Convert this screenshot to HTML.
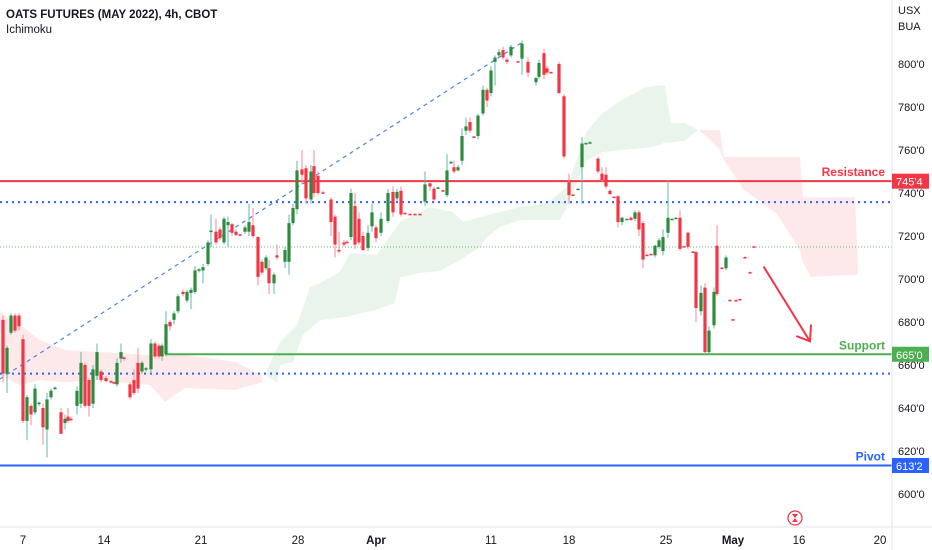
<!DOCTYPE html>
<html><head><meta charset="utf-8"><style>
body{margin:0;background:#fff;font-family:"Liberation Sans",sans-serif;}
svg{display:block}
text{font-family:"Liberation Sans",sans-serif}
</style></head><body>
<svg id="chart" width="932" height="550" viewBox="0 0 932 550" xmlns="http://www.w3.org/2000/svg">
<rect width="932" height="550" fill="#fff"/>
<g id="clouds"></g>
<g id="levels"></g>
<g id="candles"></g>
<g id="axes"></g>
<text x="6" y="18" font-size="11.5" font-weight="bold" fill="#131722">OATS FUTURES (MAY 2022), 4h, CBOT</text>
<text x="6" y="33" font-size="11.5" fill="#131722">Ichimoku</text>
</svg>
<script>
// ---- data ----
const candleData = [
[0,681,683,652,656],[1,656,669,647,668],[2,675,684,674,683],[3,683,684,675,676],[4,683,684,676,678],
[5,672,674,633,634],[6,634,646,625,645],[7,641,642,632,637],[8,638,651,637,649],[9,642,643,641,642.5],
[10,640,642,623,631],[11,630,647,617,644],[12,645,649,644,648],[13,649,650,648.5,649.5],[14.5,638,640,628,628],
[15.5,633,637,630,635],[16.25,636,640,633,634],[17,635,636,634,634.5],[18.5,641,650,637,648],[19.5,642,666,640,661],
[20.5,660,661,640,641],[21.5,653,654,636,641],[22.5,642,660,640,658],[23.5,655,670,653,666],[24.5,657,658,652,653],
[25.75,654,655,652,652.5],[27,652.5,653,651.5,652],[27.75,652,652.5,651,651.5],[28.5,651,663,650,661],[29.5,663,670,661,666],
[30.25,663.5,664,662,663],[31.75,651,652,644,645],[32.75,653,658,646,647],[33.75,661,668,647,649],[34.75,657,662,656,661],
[35.75,658,659,657,658.5],[37,658,672,656,670],[38,670,671,663,664],[39,669,670,663,664],[39.75,664,670,662,669],
[40.75,665,685,664,679],[41.75,680,681,676,678],[42.75,681,685,679,684],[43.75,685,693,684,692],[45,694,695,692,693],
[46,690,695,689,694],[47,693.5,696,686,695],[48,694,706,693,704],[49,704,705,703,704.5],[50,704,707,698,705.5],
[51.25,707,718,706,717],[52,722,730,715,722.5],[53.25,722,728,716,717],[54.25,723,724,718,719],[55.25,717,729,716,728],
[56.25,725,729,715,726.5],[57.25,725.5,726,720,721.5],[58.25,722,723,720,720.5],[59.25,720.8,721,720,720.5],[60.5,722,725,721,724],
[61.5,722,735,720,726.5],[62.5,725,733,719,720],[63.75,719.5,720,697,701],[64.75,708,709,702,703],[65.75,705,711,704,710],
[66.5,705,709,693,698],[67.75,698,703,693,702],[68.5,711,716,709,710],[70.5,708,715,705,713.5],[71.5,708,730,702,726],
[72.5,726,735,725,733],[73.5,732.5,755,730,750.5],[74.75,751,760,744,748.5],[75.75,751.5,753,735,737.5],[77,737,753,735,750],
[77.75,752.5,760,738,740],[78.75,748,750,739,740],[80,740.3,741,739.5,740],[82,737,738,720,726.5],[83,729,730,710,716],
[84,713.5,722,712,713.2],[85.25,717,718,715,716],[86,717.3,718,716.5,717],[87,719.5,742,718,740],[88,734,740,714,716],
[89,728,731,716,717],[90,720,722,713,713.5],[91.25,714.5,725,713,721.5],[92.25,724.5,735,722,731],[93.25,724,725,717,719],
[94.5,721.5,731,720,728],[96.25,727,742,726,740],[97.5,740.5,743,729,731],[98.5,737.5,742,736,740.5],[99.5,741,743,729,730],
[100.5,730.8,731,730,730.5],[101.75,730.3,730.5,729.8,730],[103,730.3,730.5,729.8,730],[104.25,730.3,730.5,729.8,730],[105.5,736,750,734,744],
[106.75,744.5,745,741,743],[107.75,742,743,736,737],[108.75,742.3,743,742,742.6],[110,741.3,741.5,740.8,741],[111,739,758,738,750.5],
[112,754,755,753.5,754.5],[112.75,752,755,749,750],[113.75,750.5,753,750,752],[114.75,755,770,753,766.5],[115.75,769,775,767,771],
[116.75,773,775,768,769],[117.75,766.3,766.5,765.8,766],[118.75,766.5,777,765,776],[120,777,790,776,788],[121,788,789,780,783],
[122,786.5,799,785,797],[123,801,804,790,803],[124,804,807,803,805.5],[125,806.5,808,802,803],[126,802,803,800,801],
[127,804,809,803,808],[128.75,801.3,801.5,800.8,801],[129.75,802.5,811,795,809.5],[131.25,801,803,794,796],[133.25,791.5,794,790,793.5],
[134,794,802,793,800.5],[135.25,805,807,793,795],[136,798,799,795,796],[137,796.3,796.5,795.8,796],[139,800,801,786,786.5],
[140.25,785,786,756,757],[141.5,745,749,735,739],[142.5,739.3,739.5,738.8,739],[143.75,741.7,742,741.5,742],[144.75,752,766,735,763],
[145.75,762.7,763.5,762.5,763.3],[146.75,763.2,764,763,763.6],[148.75,756,757,749,750],[149.75,749,752,745,746],[150.75,748.5,752,742,743],
[151.75,741,742,739,739.5],[152.75,738.3,738.5,737.8,738],[153.75,738.5,739,724,726.5],[154.75,726.5,729,725,728.5],[156,727.7,728.2,727.5,728],
[157,728.5,729,727,727.5],[158,728,732,727,731],[159,731,732,720,723],[160,726,727,705,709],[161,711.3,711.5,710.8,711],
[162,711.7,712,711.2,711.5],[163,711,716,710,715.5],[164,715,719,714,718],[165,713,723,711,719.5],[166.25,721.5,746,719,728.5],
[167.25,727.7,728.2,727.5,728],[168.25,728.2,728.7,728,728.5],[169.25,728.5,732,713,714],[170.25,715.3,715.5,714.8,715],[171.25,721.5,722,714,715],
[172.5,712.8,713,712.3,712.5],[173.25,712.5,713,680,686.5],[174.5,685,697,683,693.5],[175.5,696,698,665,666],[176.5,666,678,665,676],
[177.75,678.5,696,677,694],[178.5,715.5,725,692,693],[179.75,705.3,705.5,704.8,705],[180.75,705,711,704,710],[181.75,690.3,690.5,689.8,690],
[182.5,681.3,681.5,680.8,681],[183.25,690.2,690.5,689.8,690],[184.25,690.7,691,690.2,690.5],[185.5,710.2,710.5,709.8,710],[186.75,703.2,703.5,702.8,703],
[187.75,715.2,715.5,714.8,715]
];
// clouds: top edge (time, price) and bottom edge (time, price)
const greenTopT = [66,69.25,73.5,76.75,79.25,84.25,86.75,93.5,99.25,106.75,112.5,115,119.25,129.25,136,141,145.75,149.75,154.5,160.5,163.5,165.5,167,170.5,173.75];
const greenTopP = [657.7,670.7,678.6,696.3,698.1,703.3,712.1,711.2,726.5,733.5,731.2,726.5,728.8,733.5,735.3,742.8,768,777,783,789,790,790,772.5,772.5,769.3];
const greenBotT = [66,68.5,69.25,72.5,75,79.25,85.5,93,98,99.25,104.25,109.25,111,114.25,119.25,121,124.25,129.25,139.25,141,145.75,149.75,154.5,160.5,163.5,165.5,167,170.5,173.75];
const greenBotP = [655,651.6,660,661.4,674,680.9,682.3,685.6,688.8,700.9,702.8,703.7,705.6,708.8,714.9,719.5,724.2,727.4,727.4,733.5,755,759,760,761,762,763.5,763.5,764.5,769.3];
const redCloudT = [173.75,175.5,179.25,180.25,185.25,193.25,199.25,200,202,213,213.75];
const redCloudA = [769.3,769.3,769.3,756.7,756.7,756.7,756.7,738,738,738,705];
const redCloudB = [769.3,767,760,755.3,741.4,730.7,713.5,707.5,701,702,702];
const leftCloudT = [-1,4.25,9.25,15.5,24.25,36.75,40.5,45.5,58,64.75];
const leftCloudA = [684.7,678.6,671.6,667,666,664.7,664.7,664.7,661.4,655.3];
const leftCloudB = [655.3,650.7,653,652,653,650.7,642.8,649.3,648.4,652];
const priceTicks = [800,780,760,740,720,700,680,660,640,620,600];
const timeTickT = [5,25.25,49.5,73.75,93.25,122,141.5,165.75,182.5,199,219.25];
const timeTickLabels = ["7","14","21","28","Apr","11","18","25","May","16","20"];
const resistance = 745.5, support = 665, pivot = 613.25;
const dottedBlue = [735.75, 656];
const dottedGreen = 714.9;
const trendStart = [-0.75, 653.5], trendEnd = [129.75, 810];
const arrowStart = [190.25, 705.5], arrowEnd = [201.75, 671];
// ---- scales ----
const PLOT_R = 892;
function x(t){ return 3 + t*4; }
function y(p){ return 64 + (800-p)*2.15; }
const NS = "http://www.w3.org/2000/svg";
function mk(tag, attrs, parent){ const e=document.createElementNS(NS,tag); for(const k in attrs) e.setAttribute(k,attrs[k]); parent.appendChild(e); return e; }
const clouds=document.getElementById('clouds'), levels=document.getElementById('levels'), cg=document.getElementById('candles'), axes=document.getElementById('axes');
function cloud(TA,A,TB,B,fill,name){
  let pts=[]; for(let i=0;i<TA.length;i++) pts.push(x(TA[i])+','+y(A[i]));
  for(let i=TB.length-1;i>=0;i--) pts.push(x(TB[i])+','+y(B[i]));
  const p=mk('polygon',{points:pts.join(' '),fill:fill},clouds);
  
  
}
cloud(leftCloudT,leftCloudA,leftCloudT,leftCloudB,'#fde9e9','cloud-bearish-left');
cloud(greenTopT,greenTopP,greenBotT,greenBotP,'#e9f4ea','cloud-bullish');
cloud(redCloudT,redCloudA,redCloudT,redCloudB,'#fde9e9','cloud-bearish-right');
// levels
function hline(p,x1,color,w,dash,name){
  const l=mk('line',{x1:x1,x2:PLOT_R,y1:y(p),y2:y(p),stroke:color,'stroke-width':w},levels);
  if(dash) l.setAttribute('stroke-dasharray',dash);
  
  
}
hline(dottedGreen,0,'#66bb6a',1,'1 2','dotted-green-line');
hline(dottedBlue[0],0,'#2962ff',2,'2 4','dotted-blue-upper');
hline(dottedBlue[1],0,'#2962ff',2,'2 4','dotted-blue-lower');
hline(resistance,0,'#f23645',2,null,'resistance-line');
hline(support,x(40.5),'#4caf50',2,null,'support-line');
hline(pivot,0,'#2962ff',2,null,'pivot-line');
const tl=mk('line',{x1:x(trendStart[0]),y1:y(trendStart[1]),x2:x(trendEnd[0]),y2:y(trendEnd[1]),stroke:'#4a86e0','stroke-width':1.2,'stroke-dasharray':'4 4'},levels);


// candles
candleData.forEach(d=>{
  const [t,o,h,l,c]=d; const up=c>=o;
  const col=up?'#2e8b3e':'#f23645', wcol=up?'#5fb8a8':'#f58a92';
  const cx=x(t);
  const w=mk('line',{x1:cx,x2:cx,y1:y(h),y2:y(l),stroke:wcol,'stroke-width':1},cg);
  
  
  const top=Math.min(y(o),y(c)), bh=Math.max(1.5,Math.abs(y(o)-y(c)));
  const r=mk('rect',{x:cx-1.6,y:top,width:3.2,height:bh,fill:col},cg);
  
  
});
// arrow
const ax1=x(arrowStart[0]), ay1=y(arrowStart[1]), ax2=x(arrowEnd[0]), ay2=y(arrowEnd[1]);
const ar=mk('g',{stroke:'#f23645','stroke-width':2,fill:'none','stroke-linecap':'round'},levels);


mk('line',{x1:ax1,y1:ay1,x2:ax2,y2:ay2},ar);
mk('polyline',{points:(ax2-13)+','+(ay2-5)+' '+ax2+','+ay2+' '+(ax2+1)+','+(ay2-16)},ar);
// axes
mk('line',{x1:PLOT_R,x2:PLOT_R,y1:0,y2:550,stroke:'#e0e3eb','stroke-width':1},axes);
mk('line',{x1:0,x2:932,y1:527,y2:527,stroke:'#e0e3eb','stroke-width':1},axes);
const u=mk('text',{x:898,y:14,'font-size':11,fill:'#131722'},axes); u.textContent='USX';
 
const b=mk('text',{x:898,y:30,'font-size':11,fill:'#131722'},axes); b.textContent='BUA';
 
priceTicks.forEach(p=>{
  const tx=mk('text',{x:898,y:y(p)+4,'font-size':11,fill:'#131722'},axes); tx.textContent=p+"'0";
  
  
});
timeTickT.forEach((t,i)=>{
  const lb=timeTickLabels[i];
  const tx=mk('text',{x:x(t),y:544,'font-size':11.5,fill:'#131722','text-anchor':'middle','font-weight':(lb==='Apr'||lb==='May')?'bold':'normal'},axes); tx.textContent=lb;
  
  
});
function tag(p,color,label,text,lw,name){
  const g=mk('g',{},axes);
  
  
  mk('rect',{x:PLOT_R,y:y(p)-7.5,width:37,height:15,fill:color},g);
  const t1=mk('text',{x:PLOT_R+4,y:y(p)+4.5,'font-size':11,fill:'#fff'},g); t1.textContent=text;
  const t2=mk('text',{x:PLOT_R-7,y:y(p)-5,'font-size':12,fill:color,'text-anchor':'end','font-weight':'bold'},g); t2.textContent=label;
}
tag(resistance,'#f23645','Resistance',"745'4",0,'resistance-tag');
tag(support,'#4caf50','Support',"665'0",0,'support-tag');
tag(pivot,'#2962ff','Pivot',"613'2",0,'pivot-tag');
// hourglass icon
const hg=mk('g',{},axes);


mk('circle',{cx:795,cy:518,r:7,fill:'#fff',stroke:'#f23645','stroke-width':1.3},hg);
mk('path',{d:'M792 514 h6 l-3 4 l3 4 h-6 l3 -4 z',fill:'#f23645'},hg);
</script>
</body></html>
